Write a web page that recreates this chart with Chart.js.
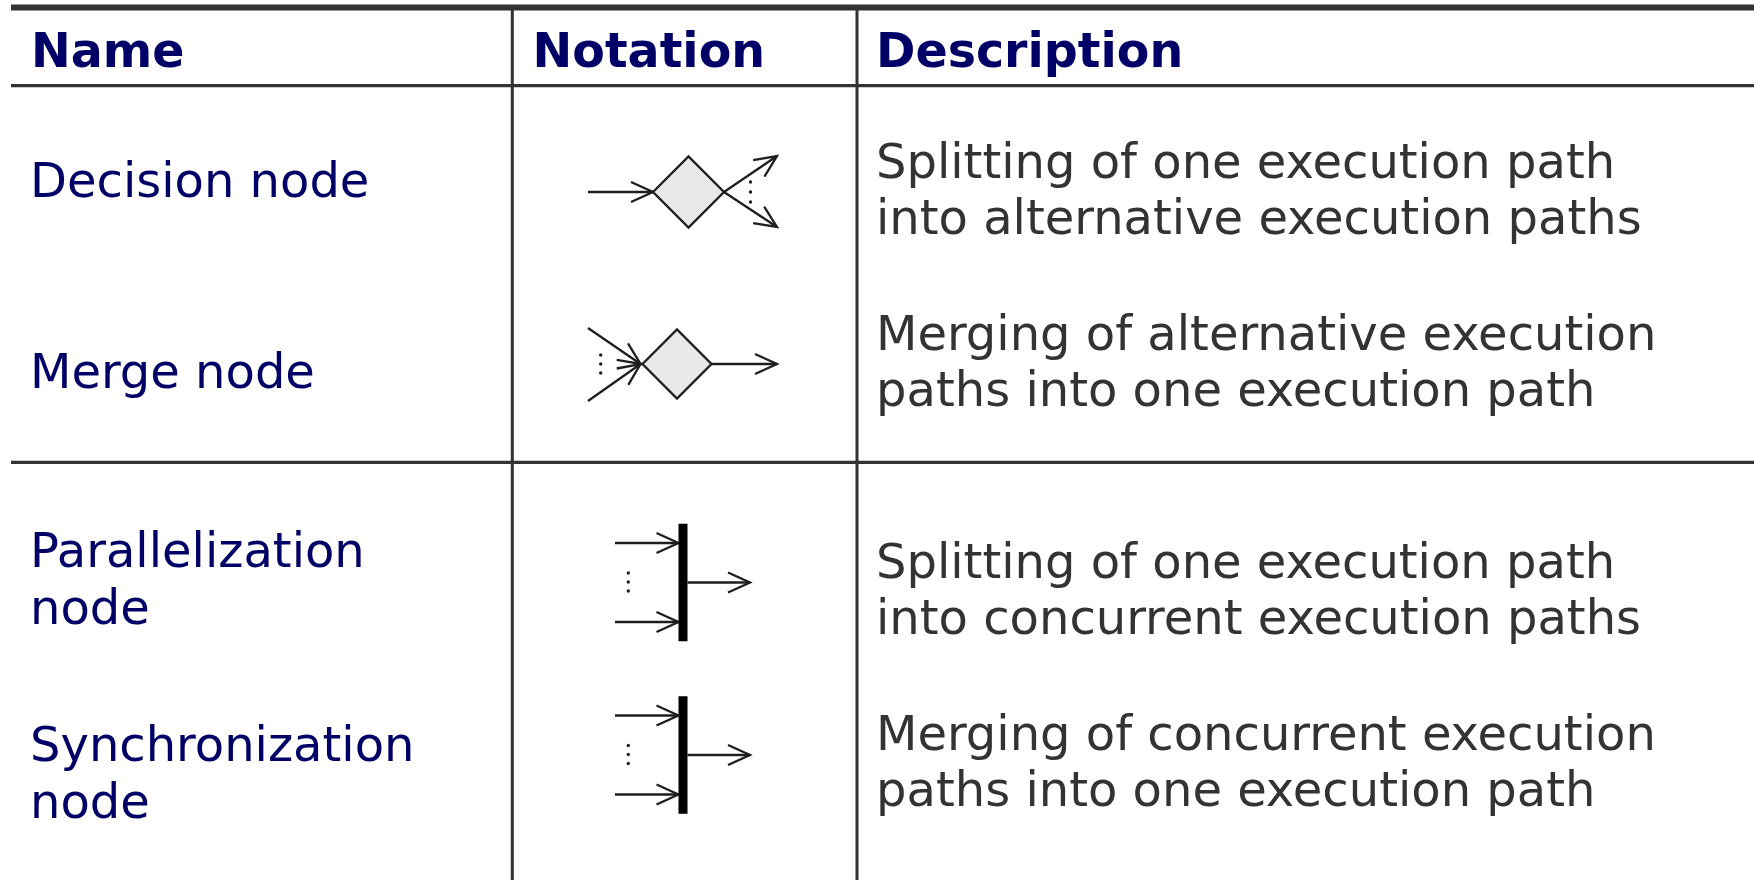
<!DOCTYPE html>
<html>
<head>
<meta charset="utf-8">
<script src="https://cdn.jsdelivr.net/npm/chart.js@4.4.1/dist/chart.umd.min.js"></script>
<style>
  html, body { margin: 0; padding: 0; background: #fff; overflow: hidden; }
  canvas { display: block; }
</style>
</head>
<body>
<canvas id="tbl" width="1754" height="880"></canvas>
<script>
// table content
const headers = ['Name', 'Notation', 'Description'];
const names = [
  ['Decision node'],
  ['Merge node'],
  ['Parallelization', 'node'],
  ['Synchronization', 'node']
];
const descriptions = [
  ['Splitting of one execution path', 'into alternative execution paths'],
  ['Merging of alternative execution', 'paths into one execution path'],
  ['Splitting of one execution path', 'into concurrent execution paths'],
  ['Merging of concurrent execution', 'paths into one execution path']
];
const notations = ['decision', 'merge', 'fork', 'join'];

// layout, in page units (the scales map 1 unit = 1 px)
const W = 1754, H = 880;
const NAVY = '#000066', GREY = '#333333', INK = '#1e1e1e';
const headerX = [31, 532.5, 876];
const nameX = 30, descX = 876;
const headerBase = 66.5;
const nameBase = [[196.5], [388], [566.5, 623.5], [760.5, 817.5]];
const descBase = [[178, 234], [350, 406], [578, 634], [750, 806]];
const anchors = [{ x: 688.5, y: 192 }, { x: 677, y: 364 }, { x: 683, y: 582.5 }, { x: 683, y: 755 }];
const rules = [
  { from: [11, 7.5], to: [W, 7.5], w: 6 },
  { from: [11, 85.7], to: [W, 85.7], w: 3.3 },
  { from: [11, 462.3], to: [W, 462.3], w: 3.3 },
  { from: [512.3, 8], to: [512.3, H], w: 3 },
  { from: [857, 8], to: [857, H], w: 3 }
];

const lines = [];    // polylines
const diamonds = []; // node shapes
const dots = [];

function arrow(p0, p1, len = 22, hw = 10) {
  lines.push({ pts: [p0, p1], w: 2.3, c: INK });
  const dx = p1[0] - p0[0], dy = p1[1] - p0[1];
  const d = Math.hypot(dx, dy), ux = dx / d, uy = dy / d;
  const bx = p1[0] - ux * len, by = p1[1] - uy * len;
  lines.push({ pts: [[bx - uy * hw, by + ux * hw], p1, [bx + uy * hw, by - ux * hw]], w: 2.3, c: INK });
}

function buildNotation(kind, a) {
  if (kind === 'decision') {
    const r = 35.5;
    diamonds.push({ x: a.x, y: a.y, r });
    arrow([a.x - r - 65, a.y], [a.x - r, a.y]);
    arrow([a.x + r, a.y], [a.x + r + 53, a.y - 36]);
    arrow([a.x + r, a.y], [a.x + r + 53, a.y + 35]);
    [-10, 0, 10].forEach(o => dots.push({ x: a.x + r + 26.5, y: a.y + o }));
  } else if (kind === 'merge') {
    const r = 34.5;
    diamonds.push({ x: a.x, y: a.y, r });
    arrow([a.x - r - 54.5, a.y - 36], [a.x - r - 2, a.y]);
    arrow([a.x - r - 54.5, a.y + 37], [a.x - r - 2, a.y]);
    arrow([a.x + r, a.y], [a.x + 100, a.y]);
    [-9, 0, 9].forEach(o => dots.push({ x: a.x - 76.3, y: a.y + o }));
  } else {
    const half = 58.8;
    lines.push({ pts: [[a.x, a.y - half], [a.x, a.y + half]], w: 9, c: '#000' });
    arrow([a.x - 68, a.y - 39.5], [a.x - 4.5, a.y - 39.5]);
    arrow([a.x - 68, a.y + 39.5], [a.x - 4.5, a.y + 39.5]);
    arrow([a.x + 4.5, a.y], [a.x + 67, a.y]);
    [-9.5, -0.5, 8.5].forEach(o => dots.push({ x: a.x - 54.7, y: a.y + o }));
  }
}

notations.forEach((k, i) => buildNotation(k, anchors[i]));

const datasets = [];
diamonds.forEach(d => datasets.push({
  data: [{ x: d.x, y: d.y }],
  showLine: false,
  pointStyle: 'rectRot',
  pointRadius: d.r,
  backgroundColor: '#e8e8e8',
  borderColor: INK,
  borderWidth: 2.3,
  order: 0,
  clip: false
}));
datasets.push({
  data: dots,
  showLine: false,
  pointStyle: 'circle',
  pointRadius: 1.7,
  backgroundColor: INK,
  borderWidth: 0,
  order: 0,
  clip: false
});
rules.map(r => ({ pts: [r.from, r.to], w: r.w, c: GREY })).concat(lines).forEach(l => datasets.push({
  data: l.pts.map(([x, y]) => ({ x, y })),
  showLine: true,
  borderColor: l.c,
  borderWidth: l.w,
  borderCapStyle: 'butt',
  borderJoinStyle: 'miter',
  pointRadius: 0,
  tension: 0,
  fill: false,
  order: 1,
  clip: false
}));

const cellText = {
  id: 'cellText',
  afterDatasetsDraw(chart) {
    const { ctx, scales: { x, y } } = chart;
    const put = (t, tx, ty) => ctx.fillText(t, x.getPixelForValue(tx), y.getPixelForValue(ty));
    ctx.save();
    ctx.textAlign = 'left';
    ctx.textBaseline = 'alphabetic';

    ctx.font = 'bold 47.5px "DejaVu Sans"';
    ctx.fillStyle = NAVY;
    headers.forEach((h, i) => put(h, headerX[i], headerBase));

    ctx.font = '48px "DejaVu Sans"';
    names.forEach((ls, i) => ls.forEach((t, j) => put(t, nameX, nameBase[i][j])));

    ctx.fillStyle = GREY;
    descriptions.forEach((ls, i) => ls.forEach((t, j) => put(t, descX, descBase[i][j])));
    ctx.restore();
  }
};

new Chart(document.getElementById('tbl'), {
  type: 'scatter',
  data: { datasets },
  options: {
    responsive: false,
    devicePixelRatio: 1,
    animation: false,
    events: [],
    layout: { padding: 0, autoPadding: false },
    plugins: { legend: { display: false }, tooltip: { enabled: false } },
    scales: {
      x: { type: 'linear', min: 0, max: W, display: false },
      y: { type: 'linear', min: 0, max: H, reverse: true, display: false }
    }
  },
  plugins: [cellText]
});
</script>
</body>
</html>
